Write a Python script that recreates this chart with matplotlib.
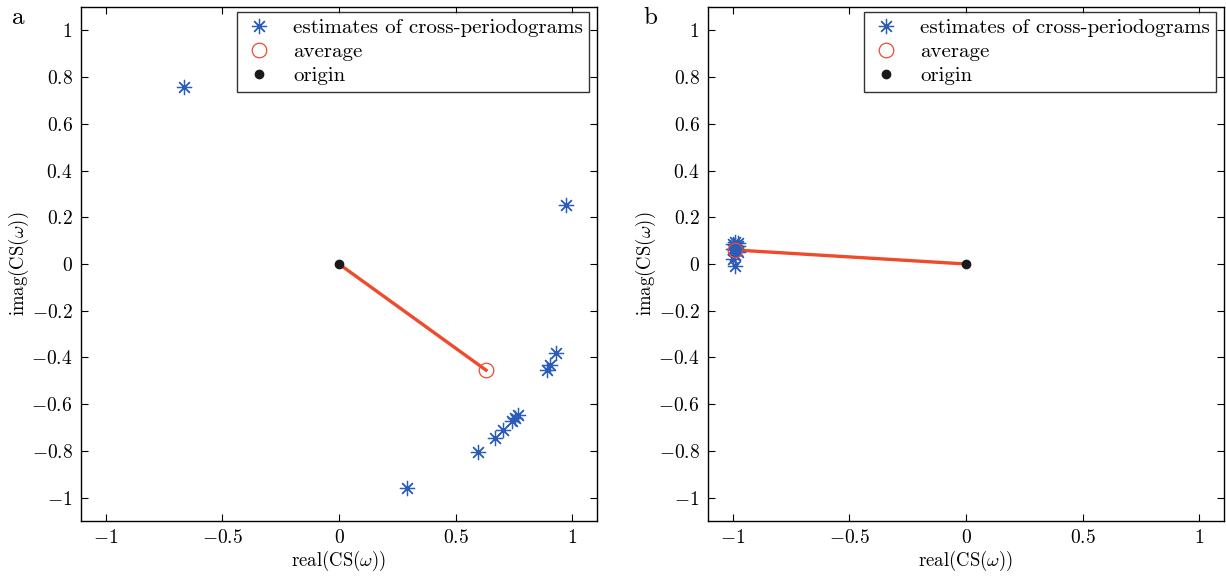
import numpy as np
import matplotlib
matplotlib.use("Agg")
import matplotlib.pyplot as plt

plt.rcParams["font.family"] = ["cmr10", "DejaVu Serif"]
plt.rcParams["mathtext.fontset"] = "cm"
plt.rcParams["axes.formatter.use_mathtext"] = True

# Cross-periodogram estimates (real, imaginary parts)
re_a = [-0.665, 0.974, 0.931, 0.906, 0.894, 0.770, 0.755, 0.742, 0.705, 0.670, 0.597, 0.292]
im_a = [0.756, 0.252, -0.379, -0.432, -0.453, -0.645, -0.660, -0.674, -0.709, -0.745, -0.806, -0.957]

re_b = [-0.99, -0.98, -1.00, -0.99, -0.98, -0.99, -1.00, -0.99, -0.98, -0.99, -1.00, -0.99]
im_b = [0.095, 0.090, 0.085, 0.080, 0.075, 0.070, 0.065, 0.060, 0.050, 0.040, 0.020, -0.010]

ticks_x = [-1, -0.5, 0, 0.5, 1]
ticks_y = [-1, -0.8, -0.6, -0.4, -0.2, 0, 0.2, 0.4, 0.6, 0.8, 1]

BLUE = "#2a5cb8"
ORANGE = "#ee4b2b"
BLACK = "#1a1a1a"

fig = plt.figure(figsize=(12.26, 5.76), dpi=100)
W, H = 1226, 576
axes = [fig.add_axes([81 / W, 55 / H, 516 / W, 514 / H]),
        fig.add_axes([708 / W, 55 / H, 516 / W, 514 / H])]

for ax, re, im in zip(axes, [re_a, re_b], [im_a, im_b]):
    re = np.asarray(re)
    im = np.asarray(im)
    mean_re, mean_im = re.mean(), im.mean()
    ax.plot([0, mean_re], [0, mean_im], color=ORANGE, lw=2.4, zorder=2)
    ax.plot(re, im, linestyle="none", marker=(8, 2, 0), markersize=11,
            markeredgewidth=0.9, color=BLUE, label="estimates of cross-periodograms", zorder=3)
    ax.plot([mean_re], [mean_im], linestyle="none", marker="o", markersize=10.5,
            markerfacecolor="none", markeredgecolor=ORANGE, markeredgewidth=0.9,
            label="average", zorder=4)
    ax.plot([0], [0], linestyle="none", marker="o", markersize=6,
            color=BLACK, label="origin", zorder=4)

    ax.set_xlim(-1.107, 1.107)
    ax.set_ylim(-1.1, 1.1)
    ax.set_xticks(ticks_x)
    ax.set_yticks(ticks_y)
    ax.set_xticklabels([r"$%g$" % t for t in ticks_x])
    ax.set_yticklabels([r"$%g$" % t for t in ticks_y])
    ax.tick_params(direction="in", top=True, right=True, length=5, width=0.8,
                   labelsize=14, pad=6)
    for s in ax.spines.values():
        s.set_linewidth(1.0)
    ax.set_xlabel(r"real(CS($\omega$))", fontsize=13.5, labelpad=1)
    ax.set_ylabel(r"imag(CS($\omega$))", fontsize=13.5, labelpad=0)

    leg = ax.legend(loc="upper right", bbox_to_anchor=(0.9845, 0.990), fontsize=15,
                    frameon=True, fancybox=False, edgecolor="black",
                    borderpad=0.3, labelspacing=0.27, handletextpad=0.9,
                    handlelength=1.5, borderaxespad=0.0)
    leg.get_frame().set_linewidth(1.0)

fig.text(18 / W, 1 - 18 / H, "a", fontsize=18, ha="center", va="center")
fig.text(650 / W, 1 - 18 / H, "b", fontsize=18, ha="center", va="center")

fig.savefig("out.png", dpi=100)
